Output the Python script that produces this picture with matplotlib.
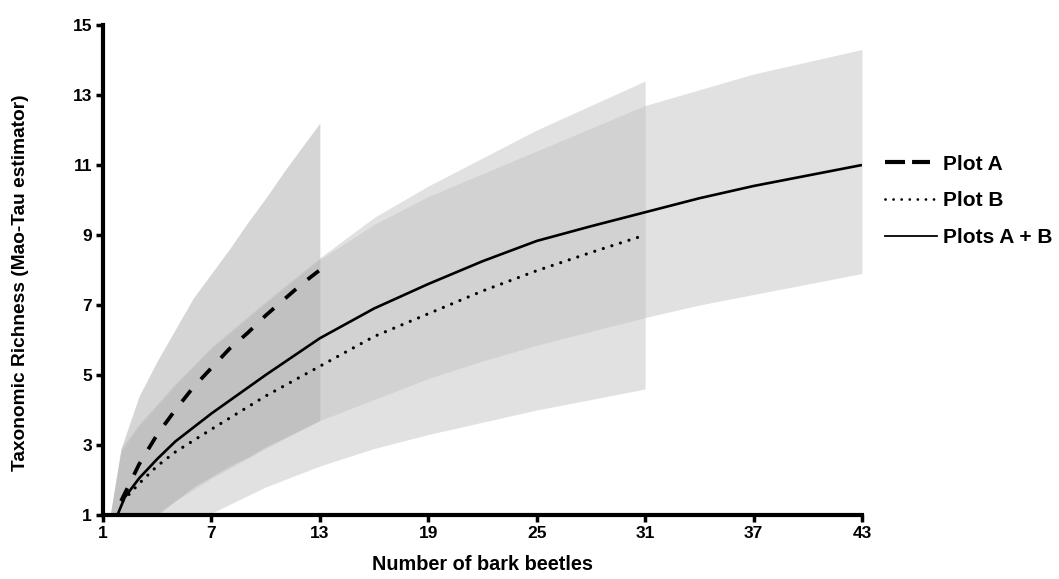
import matplotlib
matplotlib.use("Agg")
import matplotlib.pyplot as plt
from matplotlib.lines import Line2D

plt.rcParams['font.family'] = ['Liberation Sans', 'DejaVu Sans']

# ---- data ----
xA = [2, 3, 4, 5, 6, 7, 8, 9, 10, 11, 12, 13]
yA = [1.4, 2.45, 3.3, 4.0, 4.65, 5.2, 5.75, 6.2, 6.7, 7.15, 7.6, 8.0]
xA_band = [1.4, 2, 3, 4, 5, 6, 7, 8, 9, 10, 11, 12, 13]
A_upper = [1.0, 2.9, 4.4, 5.4, 6.3, 7.2, 7.9, 8.6, 9.35, 10.05, 10.8, 11.5, 12.2]
A_lower = [0.5, 0.6, 0.8, 1.0, 1.4, 1.8, 2.1, 2.4, 2.65, 2.95, 3.2, 3.45, 3.7]

xB = [2.1, 3, 4, 5, 7, 10, 13, 16, 19, 22, 25, 28, 31]
yB = [1.4, 1.9, 2.4, 2.8, 3.45, 4.4, 5.25, 6.1, 6.75, 7.4, 7.98, 8.5, 9.0]
xB_band = [1.4, 2, 3, 5, 7, 10, 13, 16, 19, 22, 25, 28, 31]
B_upper = [1.0, 2.9, 3.6, 4.75, 5.8, 7.1, 8.35, 9.5, 10.4, 11.2, 12.0, 12.7, 13.4]
B_lower = [-0.5, -0.3, 0.0, 0.6, 1.05, 1.8, 2.4, 2.9, 3.3, 3.65, 4.0, 4.3, 4.6]

xAB = [1.8, 2.2, 3, 4, 5, 7, 10, 13, 16, 19, 22, 25, 28, 31, 34, 37, 40, 43]
yAB = [1.0, 1.5, 2.05, 2.6, 3.1, 3.9, 5.0, 6.05, 6.9, 7.6, 8.25, 8.83, 9.25, 9.65, 10.05, 10.4, 10.7, 11.0]
xAB_band = [1.4, 2, 3, 5, 7, 10, 13, 16, 19, 22, 25, 28, 31, 34, 37, 40, 43]
AB_upper = [1.0, 2.8, 3.55, 4.7, 5.75, 7.05, 8.3, 9.3, 10.1, 10.75, 11.4, 12.05, 12.7, 13.15, 13.6, 13.95, 14.3]
AB_lower = [0.2, 0.4, 0.7, 1.4, 2.05, 2.9, 3.7, 4.3, 4.9, 5.4, 5.85, 6.25, 6.64, 7.0, 7.3, 7.6, 7.9]

xticks = [1, 7, 13, 19, 25, 31, 37, 43]
yticks = [1, 3, 5, 7, 9, 11, 13, 15]
labels = ['Plot A', 'Plot B', 'Plots A + B']

fig = plt.figure(figsize=(10.59, 5.79), dpi=100)
ax = fig.add_axes([103/1059, 64/579, 759/1059, 490/579])

ax.fill_between(xB_band, B_lower, B_upper, color='#c4c4c4', alpha=0.5, lw=0)
ax.fill_between(xAB_band, AB_lower, AB_upper, color='#c4c4c4', alpha=0.5, lw=0)
ax.fill_between(xA_band, A_lower, A_upper, color='#b4b4b4', alpha=0.55, lw=0)

ax.plot(xAB, yAB, color='black', lw=1.9, solid_capstyle='butt')
ax.plot(xB, yB, color='black', lw=2.3, linestyle=(0, (0.01, 2.8)), dash_capstyle='round')
ax.plot(xA, yA, color='black', lw=2.7, linestyle=(0, (3.8, 4.0)), dash_capstyle='butt')

ax.set_xlim(1, 43)
ax.set_ylim(1, 15)
ax.set_xticks(xticks)
ax.set_yticks(yticks)
ax.tick_params(axis='both', direction='out', length=5, width=2.5, labelsize=12.5, pad=3)
for lab in ax.get_xticklabels() + ax.get_yticklabels():
    lab.set_fontweight('bold')
for s in ['top', 'right']:
    ax.spines[s].set_visible(False)
for s in ['left', 'bottom']:
    ax.spines[s].set_linewidth(3)

ax.set_xlabel('Number of bark beetles', fontsize=14.3, fontweight='bold', labelpad=10)
ax.set_ylabel('Taxonomic Richness (Mao-Tau estimator)', fontsize=13.8, fontweight='bold')
ax.yaxis.set_label_coords(-0.0975, 0.475)

handles = [
    Line2D([], [], color='black', lw=3, linestyle=(0, (4.8, 1.7, 4.3, 12))),
    Line2D([], [], color='black', lw=2.0, linestyle=(0, (0.01, 2.9)), dash_capstyle='round'),
    Line2D([], [], color='black', lw=1.3),
]
leg = fig.legend(handles, labels, loc='center left', bbox_to_anchor=(877/1059, 1 - 201/579),
                 frameon=False, handlelength=2.5, handletextpad=0.25, labelspacing=0.85,
                 borderaxespad=0, prop={'size': 15, 'weight': 'bold'})

fig.savefig('out.png', dpi=100)
